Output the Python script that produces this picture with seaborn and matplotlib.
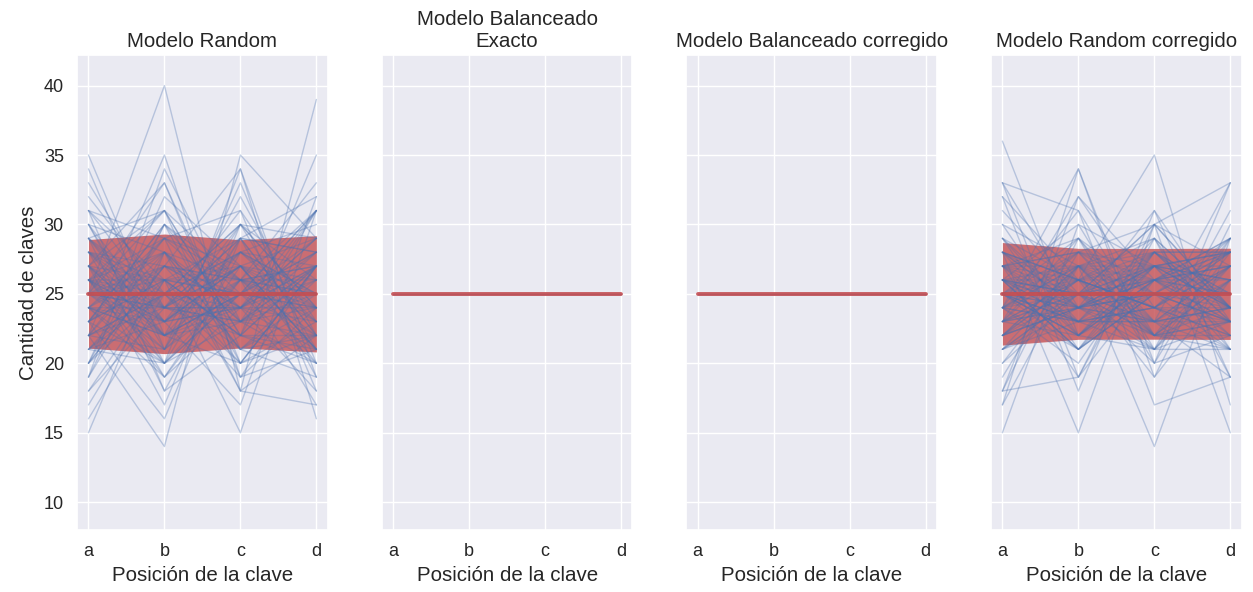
import matplotlib
matplotlib.use("Agg")
import matplotlib.pyplot as plt
import seaborn as sns
import pandas as pd

# posiciones de la clave
posiciones = ["a", "b", "c", "d"]

# cantidad de claves por posicion, una fila por examen simulado
modelo_random = [
    (35, 22, 20, 23), (25, 40, 18, 17), (22, 14, 35, 29), (15, 28, 18, 39),
    (30, 20, 34, 16), (27, 33, 21, 19), (21, 25, 30, 24), (19, 30, 26, 25),
    (28, 23, 17, 32), (24, 27, 25, 24), (31, 18, 28, 23), (26, 21, 33, 20),
    (17, 26, 22, 35), (29, 31, 19, 21), (23, 16, 29, 32), (33, 24, 23, 20),
    (20, 32, 27, 21), (26, 19, 24, 31), (22, 29, 31, 18), (34, 21, 25, 20),
    (18, 24, 28, 30), (25, 33, 20, 22), (28, 26, 15, 31), (21, 20, 26, 33),
    (30, 28, 24, 18), (24, 22, 32, 22), (27, 17, 30, 26), (19, 34, 23, 24),
    (32, 25, 21, 22), (23, 30, 20, 27), (25, 23, 27, 25), (20, 27, 34, 19),
    (29, 18, 22, 31), (26, 31, 26, 17), (16, 25, 30, 29), (31, 29, 18, 22),
    (24, 20, 25, 31), (28, 24, 29, 19), (22, 35, 19, 24), (27, 22, 24, 27),
    (26, 24, 27, 23), (23, 27, 24, 26), (25, 26, 22, 27), (27, 23, 26, 24),
    (24, 28, 23, 25), (22, 25, 28, 25), (28, 22, 25, 25), (25, 24, 24, 27),
    (23, 26, 29, 22), (26, 25, 23, 26), (29, 23, 24, 24), (24, 29, 26, 21),
    (21, 26, 25, 28), (27, 24, 22, 27), (25, 22, 26, 27), (26, 28, 21, 25),
    (30, 21, 26, 23), (20, 27, 24, 29), (25, 31, 22, 22), (28, 19, 27, 26),
    (22, 24, 31, 23), (27, 26, 20, 27), (24, 22, 25, 29), (19, 28, 26, 27),
    (31, 24, 23, 22), (23, 20, 29, 28), (26, 29, 24, 21), (21, 23, 27, 29),
    (29, 25, 19, 27), (25, 21, 30, 24), (23, 30, 25, 22), (27, 22, 23, 28),
    (20, 25, 28, 27), (28, 27, 21, 24), (24, 19, 26, 31), (26, 26, 27, 21),
    (22, 28, 23, 27), (30, 23, 24, 23), (25, 24, 29, 22), (18, 26, 25, 31),
    (27, 31, 22, 20), (24, 23, 28, 25), (21, 27, 26, 26), (29, 22, 25, 24),
    (26, 20, 23, 31), (23, 29, 27, 21), (28, 25, 20, 27), (25, 27, 26, 22),
    (22, 21, 29, 28), (31, 26, 22, 21), (24, 24, 24, 28), (26, 23, 30, 21),
    (20, 30, 23, 27), (27, 20, 25, 28), (23, 26, 26, 25), (25, 28, 21, 26),
    (29, 24, 27, 20), (22, 25, 24, 29), (26, 22, 28, 24), (26, 23, 27, 24),
]

modelo_balanceado_exacto = [(25, 25, 25, 25)] * 5
modelo_balanceado_corregido = [(25, 25, 25, 25)] * 5

modelo_random_corregido = [
    (36, 22, 21, 21), (15, 30, 27, 28), (24, 34, 20, 22), (28, 15, 30, 27),
    (22, 26, 35, 17), (30, 27, 14, 29), (21, 23, 23, 33), (27, 28, 30, 15),
    (33, 24, 22, 21), (18, 32, 26, 24), (26, 21, 28, 25), (29, 26, 19, 26),
    (23, 29, 25, 23), (25, 22, 27, 26), (31, 25, 23, 21), (20, 27, 29, 24),
    (27, 19, 26, 28), (24, 31, 22, 23), (22, 24, 31, 23), (28, 26, 24, 22),
    (25, 23, 21, 31), (19, 28, 27, 26), (30, 22, 26, 22), (23, 32, 24, 21),
    (26, 25, 20, 29), (24, 20, 28, 28), (32, 26, 23, 19), (21, 25, 30, 24),
    (27, 29, 22, 22), (25, 24, 26, 25), (17, 27, 28, 28), (29, 21, 25, 25),
    (23, 26, 27, 24), (26, 30, 21, 23), (24, 23, 24, 29), (28, 24, 27, 21),
    (22, 27, 22, 29), (26, 24, 25, 25), (25, 28, 23, 24), (20, 25, 26, 29),
    (26, 23, 27, 24), (24, 27, 23, 26), (27, 25, 22, 26), (23, 24, 26, 27),
    (25, 23, 24, 28), (28, 22, 25, 25), (22, 26, 28, 24), (26, 24, 23, 27),
    (24, 21, 27, 28), (27, 27, 25, 21), (25, 23, 24, 28), (23, 28, 26, 23),
    (26, 25, 21, 28), (29, 24, 23, 24), (24, 26, 29, 21), (22, 24, 25, 29),
    (27, 22, 26, 25), (25, 27, 22, 26), (23, 25, 27, 25), (26, 21, 25, 28),
    (28, 26, 24, 22), (21, 27, 26, 26), (25, 24, 28, 23), (27, 23, 23, 27),
    (24, 28, 25, 23), (26, 25, 22, 27), (23, 22, 27, 28), (25, 26, 26, 23),
    (28, 24, 21, 27), (24, 25, 27, 24), (22, 27, 24, 27), (26, 23, 28, 23),
    (25, 29, 23, 23), (27, 24, 25, 24), (23, 26, 24, 27), (25, 22, 26, 27),
    (24, 27, 27, 22), (28, 25, 23, 24), (21, 24, 26, 29), (26, 26, 24, 24),
    (24, 23, 29, 24), (27, 28, 22, 23), (32, 18, 31, 19), (23, 24, 27, 26),
    (26, 27, 21, 26), (29, 23, 25, 23), (22, 25, 26, 27), (25, 22, 28, 25),
    (33, 31, 17, 19), (18, 19, 30, 33), (26, 21, 25, 28), (23, 25, 28, 24),
    (25, 21, 26, 28), (28, 26, 22, 24), (17, 34, 19, 30), (22, 24, 27, 27),
    (33, 19, 29, 19), (18, 29, 20, 33), (27, 26, 24, 23), (21, 25, 30, 24),
]

titulos = ["Modelo Random", "Modelo Balanceado\nExacto",
           "Modelo Balanceado corregido", "Modelo Random corregido"]
modelos = [modelo_random, modelo_balanceado_exacto,
           modelo_balanceado_corregido, modelo_random_corregido]


def a_tabla(filas):
    registros = []
    for i, fila in enumerate(filas):
        for pos, n in zip(posiciones, fila):
            registros.append({"examen": i, "posicion": pos, "cantidad": n})
    return pd.DataFrame(registros)


sns.set_theme(style="darkgrid", color_codes=True)
plt.rcParams["font.family"] = ["Liberation Sans", "DejaVu Sans"]
plt.rcParams["axes.titlesize"] = 14.8
plt.rcParams["axes.labelsize"] = 14.8
plt.rcParams["xtick.labelsize"] = 13
plt.rcParams["ytick.labelsize"] = 13

fig, axes = plt.subplots(1, 4, figsize=(12.53, 5.92), dpi=100, sharey=True)

for ax, filas, titulo in zip(axes, modelos, titulos):
    df = a_tabla(filas)
    # banda de desvio estandar
    sns.lineplot(data=df, x="posicion", y="cantidad", errorbar="sd",
                 color="r", linewidth=0, ax=ax,
                 err_kws={"alpha": 0.8, "zorder": 1, "linewidth": 0})
    # cada examen
    sns.lineplot(data=df, x="posicion", y="cantidad", units="examen",
                 estimator=None, color="b", alpha=0.33, linewidth=1, ax=ax,
                 zorder=2)
    # media
    sns.lineplot(data=df, x="posicion", y="cantidad", errorbar=None,
                 color="r", linewidth=2.8, alpha=0.9, ax=ax, zorder=3)
    ax.set_title(titulo)
    ax.set_xlabel("Posición de la clave")
    ax.set_ylabel("")

axes[0].set_ylabel("Cantidad de claves")
axes[0].set_ylim(8, 42.2)
axes[0].set_yticks([10, 15, 20, 25, 30, 35, 40])

plt.subplots_adjust(left=0.0615, right=0.991, bottom=0.105, top=0.907, wspace=0.215)
plt.savefig("out.png", dpi=100)
